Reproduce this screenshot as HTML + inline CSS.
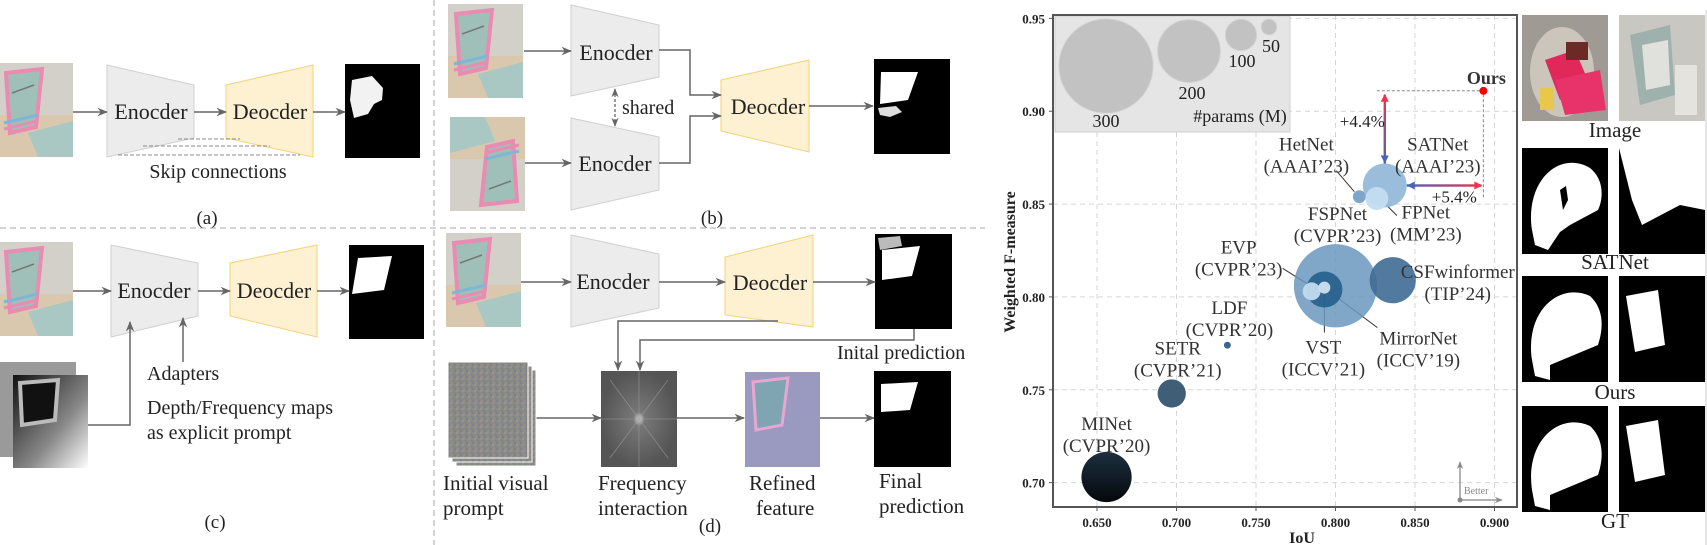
<!DOCTYPE html>
<html><head><meta charset="utf-8">
<style>
html,body{margin:0;padding:0;background:#fff;}
svg{display:block;font-family:"Liberation Serif",serif;}
</style></head>
<body>
<svg id="fig" width="1707" height="545" viewBox="0 0 1707 545" xmlns="http://www.w3.org/2000/svg">
<defs>
  <marker id="ah" viewBox="0 0 10 10" refX="9" refY="5" markerWidth="7" markerHeight="7" orient="auto-start-reverse"><path d="M0,1 L10,5 L0,9 L3,5 z" fill="#666"/></marker>
  <marker id="ahg" viewBox="0 0 10 10" refX="9" refY="5" markerWidth="6" markerHeight="6" orient="auto"><path d="M0,1 L10,5 L0,9 L3,5 z" fill="#888"/></marker>
  <linearGradient id="gv" x1="0" y1="0" x2="0" y2="1"><stop offset="0" stop-color="#f0324a"/><stop offset="1" stop-color="#4a62b8"/></linearGradient>
  <linearGradient id="gh" x1="0" y1="0" x2="1" y2="0"><stop offset="0" stop-color="#4a62b8"/><stop offset="1" stop-color="#f0324a"/></linearGradient>
  <linearGradient id="depth" x1="0" y1="0" x2="1" y2="1"><stop offset="0" stop-color="#111"/><stop offset="0.6" stop-color="#888"/><stop offset="1" stop-color="#fff"/></linearGradient>
  <linearGradient id="minetg" x1="0" y1="0" x2="0" y2="1"><stop offset="0" stop-color="#1d2f40"/><stop offset="1" stop-color="#05080b"/></linearGradient>
  <radialGradient id="fft"><stop offset="0" stop-color="#ddd"/><stop offset="0.15" stop-color="#777"/><stop offset="1" stop-color="#555"/></radialGradient>
  <pattern id="noise" width="6" height="6" patternUnits="userSpaceOnUse"><rect width="6" height="6" fill="#8a8a86"/><rect x="0" y="0" width="2" height="2" fill="#9a8f9a"/><rect x="3" y="2" width="2" height="2" fill="#7c8a7e"/><rect x="1" y="4" width="2" height="2" fill="#968e80"/><rect x="4" y="4" width="2" height="2" fill="#7e7f90"/></pattern>
  <g id="photo">
    <rect width="75" height="94" fill="#d3d0ca"/>
    <rect y="52" width="75" height="42" fill="#d9c8ae"/>
    <polygon points="30,70 75,58 75,94 40,94" fill="#a9c7c3"/>
    <polygon points="8,10 44,6 38,64 12,70" fill="#9fc0b8"/>
    <polygon points="8,10 44,6 38,64 12,70" fill="none" stroke="#ea8bb1" stroke-width="4"/>
    <path d="M6,60 L40,52" stroke="#7fb6d6" stroke-width="3"/>
    <path d="M6,66 L40,58" stroke="#ea8bb1" stroke-width="3"/>
    <path d="M14,30 L36,22" stroke="#777" stroke-width="1.5"/>
  </g>
</defs>

<line x1="0" y1="228" x2="985" y2="228" stroke="#aaa" stroke-dasharray="6,4"/>
<line x1="434" y1="0" x2="434" y2="545" stroke="#aaa" stroke-dasharray="6,4"/>

<g font-size="22" fill="#222">
  <use href="#photo" x="-2" y="63"/>
  <polygon points="107,65 194,85 194,138 107,157" fill="#ececec" stroke="#cfcfcf"/>
  <text x="151" y="119" text-anchor="middle">Enocder</text>
  <polygon points="226,85 313,65 313,157 226,138" fill="#fdf1d2" stroke="#f2d27a"/>
  <text x="270" y="119" text-anchor="middle">Deocder</text>
  <rect x="345" y="64" width="75" height="94" fill="#000"/>
  <path d="M352,80 L372,76 L383,88 L382,100 L374,104 L368,114 L354,118 L350,100 z" fill="#fff" opacity="0.95"/>
  <g stroke="#666" stroke-width="1.5" marker-end="url(#ah)"><line x1="73" y1="112" x2="107" y2="112"/><line x1="194" y1="112" x2="226" y2="112"/><line x1="313" y1="112" x2="345" y2="112"/></g>
  <g stroke="#888" stroke-dasharray="4,2"><line x1="178" y1="139" x2="240" y2="139"/><line x1="143" y1="146" x2="270" y2="146"/><line x1="118" y1="155" x2="300" y2="155"/></g>
  <text x="218" y="178" text-anchor="middle" font-size="20">Skip connections</text>
  <text x="207" y="224" text-anchor="middle" font-size="19">(a)</text>
</g>

<g font-size="22" fill="#222">
  <use href="#photo" x="-2" y="242"/>
  <polygon points="111,245 198,263 198,316 111,337" fill="#ececec" stroke="#cfcfcf"/>
  <text x="154" y="298" text-anchor="middle">Enocder</text>
  <polygon points="230,263 317,245 317,337 230,316" fill="#fdf1d2" stroke="#f2d27a"/>
  <text x="274" y="298" text-anchor="middle">Deocder</text>
  <rect x="349" y="245" width="75" height="94" fill="#000"/>
  <polygon points="358,258 392,256 384,290 352,294" fill="#fff"/>
  <g stroke="#666" stroke-width="1.5" marker-end="url(#ah)"><line x1="73" y1="291" x2="111" y2="291"/><line x1="198" y1="291" x2="230" y2="291"/><line x1="317" y1="291" x2="349" y2="291"/></g>
  <rect x="0" y="362" width="76" height="95" fill="#9a9a9a"/>
  <rect x="13" y="375" width="75" height="93" fill="url(#depth)"/>
  <polygon points="20,383 58,380 55,420 22,425" fill="#111" stroke="#bbb" stroke-width="4"/>
  <polyline points="88,425 130,425 130,322" fill="none" stroke="#666" stroke-width="1.5" marker-end="url(#ah)"/>
  <line x1="183" y1="362" x2="183" y2="318" stroke="#666" stroke-width="1.5" marker-end="url(#ah)"/>
  <text x="147" y="380" font-size="20">Adapters</text>
  <text x="147" y="414" font-size="20">Depth/Frequency maps</text>
  <text x="147" y="439" font-size="20">as explicit prompt</text>
  <text x="215" y="528" text-anchor="middle" font-size="19">(c)</text>
</g>

<g font-size="22" fill="#222">
  <use href="#photo" x="448" y="4"/>
  <use href="#photo" transform="translate(525,211) rotate(180)"/>
  <polygon points="571,5 659,25 659,77 571,96" fill="#ececec" stroke="#cfcfcf"/>
  <text x="616" y="60" text-anchor="middle">Enocder</text>
  <polygon points="571,118 659,137 659,190 571,210" fill="#ececec" stroke="#cfcfcf"/>
  <text x="615" y="171" text-anchor="middle">Enocder</text>
  <polygon points="721,80 809,60 809,152 721,131" fill="#fdf1d2" stroke="#f2d27a"/>
  <text x="768" y="114" text-anchor="middle">Deocder</text>
  <rect x="874" y="59" width="76" height="95" fill="#000"/>
  <polygon points="881,72 918,72 908,100 880,104" fill="#fff"/>
  <path d="M878,108 L896,106 L902,112 L890,117 L880,115 z" fill="#ddd"/>
  <g stroke="#666" stroke-width="1.5" fill="none" marker-end="url(#ah)">
    <line x1="524" y1="51" x2="571" y2="51"/><line x1="525" y1="163" x2="571" y2="163"/>
    <polyline points="659,50 690,50 690,95 721,95"/><polyline points="659,163 690,163 690,116 721,116"/>
    <line x1="809" y1="106" x2="873" y2="106"/>
  </g>
  <line x1="615" y1="89" x2="615" y2="126" stroke="#666" stroke-width="1.3" stroke-dasharray="3,2" marker-start="url(#ah)" marker-end="url(#ah)"/>
  <text x="622" y="114" font-size="20">shared</text>
  <text x="712" y="224" text-anchor="middle" font-size="19">(b)</text>
</g>

<g font-size="22" fill="#222">
  <use href="#photo" x="446" y="233"/>
  <polygon points="571,235 659,254 659,308 571,327" fill="#ececec" stroke="#cfcfcf"/>
  <text x="613" y="289" text-anchor="middle">Enocder</text>
  <polygon points="725,257 813,235 813,327 725,315" fill="#fdf1d2" stroke="#f2d27a"/>
  <text x="770" y="290" text-anchor="middle">Deocder</text>
  <rect x="875" y="234" width="77" height="95" fill="#000"/>
  <polygon points="882,250 920,246 912,276 882,280" fill="#fff"/>
  <path d="M878,238 L900,236 L902,246 L880,250 z" fill="#bbb"/>
  <g stroke="#666" stroke-width="1.5" fill="none" marker-end="url(#ah)">
    <line x1="521" y1="282" x2="571" y2="282"/><line x1="659" y1="282" x2="725" y2="282"/><line x1="813" y1="282" x2="875" y2="282"/>
    <polyline points="778,321 618,321 618,370"/><polyline points="914,329 914,340 640,340 640,370"/>
    <line x1="536" y1="418" x2="601" y2="418"/><line x1="677" y1="418" x2="744" y2="418"/><line x1="820" y1="418" x2="874" y2="418"/>
  </g>
  <text x="837" y="359" font-size="20">Inital prediction</text>
  <rect x="456" y="370" width="80" height="96" fill="url(#noise)" stroke="#fff"/>
  <rect x="452" y="366" width="80" height="96" fill="url(#noise)" stroke="#fff"/>
  <rect x="448" y="362" width="80" height="96" fill="url(#noise)" stroke="#fff"/>
  <rect x="601" y="371" width="76" height="96" fill="url(#fft)"/>
  <g stroke="#999" stroke-width="0.8" opacity="0.7"><line x1="639" y1="371" x2="639" y2="467"/><line x1="601" y1="419" x2="677" y2="419"/><line x1="610" y1="380" x2="668" y2="458"/><line x1="668" y1="380" x2="610" y2="458"/></g>
  <rect x="745" y="372" width="75" height="95" fill="#9a9ac0"/>
  <polygon points="753,382 788,378 782,425 756,430" fill="#7fa4b2" stroke="#e6a7d2" stroke-width="3"/>
  <rect x="874" y="371" width="77" height="96" fill="#000"/>
  <polygon points="881,384 918,382 910,410 881,412" fill="#fff"/>
  <text x="443" y="490" font-size="21">Initial visual</text>
  <text x="443" y="515" font-size="21">prompt</text>
  <text x="598" y="490" font-size="21">Frequency</text>
  <text x="598" y="515" font-size="21">interaction</text>
  <text x="749" y="490" font-size="21">Refined</text>
  <text x="756" y="515" font-size="21">feature</text>
  <text x="879" y="488" font-size="21">Final</text>
  <text x="879" y="513" font-size="21">prediction</text>
  <text x="710" y="532" text-anchor="middle" font-size="19">(d)</text>
</g>

<g id="chart"></g>

<g font-size="21" fill="#222">
  <rect x="1522" y="15" width="86" height="106" fill="#9f9b94"/>
  <ellipse cx="1562" cy="72" rx="32" ry="45" fill="#cbc5bc"/>
  <polygon points="1545,60 1575,50 1590,85 1560,100" fill="#e0285a"/>
  <polygon points="1555,80 1600,70 1606,110 1565,115" fill="#e8336a"/>
  <rect x="1540" y="88" width="14" height="22" fill="#e7c84a"/>
  <rect x="1566" y="42" width="22" height="18" fill="#6b2a26"/>
  <rect x="1619" y="15" width="86" height="106" fill="#c8c7c2"/>
  <polygon points="1630,35 1670,25 1675,95 1640,105" fill="#9fb1ac"/>
  <polygon points="1642,45 1668,40 1670,85 1646,90" fill="#e0e0dc"/>
  <rect x="1675" y="65" width="22" height="50" fill="#e5e3de"/>
  <text x="1615" y="137" text-anchor="middle">Image</text>
  <rect x="1522" y="148" width="86" height="106" fill="#000"/>
  <path d="M1532,230 C1525,180 1560,150 1590,168 C1605,180 1603,200 1598,210 L1570,225 L1560,232 L1548,250 L1535,245 z" fill="#fff"/>
  <path d="M1560,190 L1566,186 L1568,200 L1563,210 z" fill="#000"/>
  <rect x="1619" y="148" width="86" height="106" fill="#000"/>
  <polygon points="1619,148 1705,148 1705,210 1680,205 1642,225 1632,200 1622,160" fill="#fff"/>
  <text x="1615" y="269" text-anchor="middle">SATNet</text>
  <rect x="1522" y="276" width="86" height="106" fill="#000"/>
  <path d="M1532,360 C1525,310 1560,282 1590,296 C1605,310 1603,330 1598,345 L1550,365 L1550,380 L1535,376 z" fill="#fff"/>
  <rect x="1619" y="276" width="86" height="106" fill="#000"/>
  <polygon points="1626,296 1658,290 1665,345 1635,352" fill="#fff"/>
  <text x="1615" y="399" text-anchor="middle">Ours</text>
  <rect x="1522" y="406" width="86" height="106" fill="#000"/>
  <path d="M1532,490 C1525,440 1560,412 1590,426 C1605,440 1603,460 1598,475 L1550,495 L1550,510 L1535,506 z" fill="#fff"/>
  <rect x="1619" y="406" width="86" height="106" fill="#000"/>
  <polygon points="1626,426 1658,420 1665,475 1635,482" fill="#fff"/>
  <text x="1615" y="528" text-anchor="middle">GT</text>
  <line x1="1706" y1="10" x2="1706" y2="545" stroke="#ccc"/>
</g>
</svg>

<script>
const methods = ["MINet","SETR","LDF","FSPNet","VST","EVP","MirrorNet","CSFwinformer","HetNet","SATNet","FPNet","Ours"];
const venues = ["(CVPR’20)","(CVPR’21)","(CVPR’20)","(CVPR’23)","(ICCV’21)","(CVPR’23)","(ICCV’19)","(TIP’24)","(AAAI’23)","(AAAI’23)","(MM’23)",""];
const iouValues = [0.656,0.697,0.732,0.800,0.793,0.785,0.793,0.836,0.815,0.831,0.826,0.893];
const fmValues = [0.703,0.748,0.774,0.806,0.804,0.803,0.805,0.809,0.854,0.860,0.853,0.911];
const paramValues = [160,90,22,265,115,57,38,147,41,140,73,25];
const xTicks = [0.650,0.700,0.750,0.800,0.850,0.900];
const yTicks = [0.70,0.75,0.80,0.85,0.90,0.95];
const legendParams = [300,200,100,50];

const colors = ["url(#minetg)","#365670","#3b6589","#6a97be","#1f5a87","#c2daef","#cde0f0","#3f6c93","#6f9cc2","#8fb6d7","#c4dcf0","red"];
const opac = [1,0.95,1,0.85,0.85,0.95,0.95,0.9,0.9,0.9,0.95,1];
const labelOff = [[0,-47],[6,-39],[2,-31],[2,-66],[-1,64],[-73,-38],[94,57],[65,-2],[-53,-46],[53,-35],[49,20],[3,-7]];

const X0 = 1053, X1 = 1517, Y0 = 15, Y1 = 507;
function xs(v){ return 1097 + (v - 0.65) * 1590; }
function ys(v){ return 250.5 - (v - 0.825) * 1857; }
function rs(p){ return p * 0.157; }

const NS = "http://www.w3.org/2000/svg";
const chart = document.getElementById("chart");
function mk(tag, attrs, parent){ const e = document.createElementNS(NS, tag); for (const k in attrs) e.setAttribute(k, attrs[k]); (parent||chart).appendChild(e); return e; }

xTicks.forEach(t=>{
  const g = mk("line",{x1:xs(t),y1:Y0,x2:xs(t),y2:Y1,stroke:"#d6d6d6","stroke-dasharray":"5,4"});
  
  
  const tk = mk("line",{x1:xs(t),y1:Y1,x2:xs(t),y2:Y1+4,stroke:"#555"});
  
  
  const tx = mk("text",{x:xs(t),y:Y1+20,"text-anchor":"middle","font-size":"13","font-weight":"bold",fill:"#222"});
  tx.textContent = t.toFixed(3);
  
  
});
yTicks.forEach(t=>{
  const g = mk("line",{x1:X0,y1:ys(t),x2:X1,y2:ys(t),stroke:"#d6d6d6","stroke-dasharray":"5,4"});
  
  
  const tk = mk("line",{x1:X0-4,y1:ys(t),x2:X0,y2:ys(t),stroke:"#555"});
  
  
  const tx = mk("text",{x:X0-8,y:ys(t)+5,"text-anchor":"end","font-size":"13","font-weight":"bold",fill:"#222"});
  tx.textContent = t.toFixed(2);
  
  
});

const lg = mk("rect",{x:X0+2,y:Y0+1,width:235,height:116,fill:"#e5e5e5",stroke:"#cfcfcf"});


const legCx = [1106,1189,1241,1269], legCy = [66,51,35,27], legLx = [1106,1192,1242,1271], legLy = [127,99,67,52];
legendParams.forEach((p,i)=>{
  const c = mk("circle",{cx:legCx[i],cy:legCy[i],r:rs(p),fill:"#c2c2c2",stroke:"#d4d4d4"});
  
  
  const t = mk("text",{x:legLx[i],y:legLy[i],"text-anchor":"middle","font-size":"18",fill:"#222"});
  t.textContent = p;
  
  
});
const lt = mk("text",{x:1240,y:122,"text-anchor":"middle","font-size":"18",fill:"#222"});
lt.textContent = "#params (M)";



const S = methods.indexOf("SATNet"), O = methods.indexOf("Ours");
const leaders = [[methods.indexOf("HetNet"),-23,-26,-5,-5],[methods.indexOf("FPNet"),20,17,8,5],[methods.indexOf("EVP"),-29,-23,-2,-6],[methods.indexOf("VST"),0,43,0,5],[methods.indexOf("MirrorNet"),53,40,13,10]];
leaders.forEach(L=>{
  const i=L[0], x=xs(iouValues[i]), y=ys(fmValues[i]);
  const l = mk("line",{x1:x+L[3],y1:y+L[4],x2:x+L[1],y2:y+L[2],stroke:"#333","stroke-width":"1"});
  
  
});

const order = [0,1,2,3,7,4,5,6,8,9,10];
order.forEach(i=>{
  const c = mk("circle",{cx:xs(iouValues[i]),cy:ys(fmValues[i]),r:rs(paramValues[i]),fill:colors[i],"fill-opacity":opac[i]});
  
  
});

const ox = xs(iouValues[O]), oy = ys(fmValues[O]), sx = xs(iouValues[S]), sy = ys(fmValues[S]), sr = rs(paramValues[S]);
const d1 = mk("polyline",{points:`${sx-8},${oy} ${ox},${oy} ${ox},${sy+13}`,fill:"none",stroke:"#888","stroke-dasharray":"3,2"});


const va = mk("rect",{x:sx-1.2,y:oy+4,width:2.4,height:(sy-sr)-(oy+4),fill:"url(#gv)"});


mk("path",{d:`M${sx-4},${oy+11} L${sx},${oy+3} L${sx+4},${oy+11} z`,fill:"#f0324a"});
mk("path",{d:`M${sx-4},${sy-sr-8} L${sx},${sy-sr} L${sx+4},${sy-sr-8} z`,fill:"#4a62b8"});
const ha = mk("rect",{x:sx+sr,y:sy-1.2,width:ox-(sx+sr)-2,height:2.4,fill:"url(#gh)"});


mk("path",{d:`M${sx+sr+8},${sy-4} L${sx+sr},${sy} L${sx+sr+8},${sy+4} z`,fill:"#4a62b8"});
mk("path",{d:`M${ox-9},${sy-4} L${ox-1},${sy} L${ox-9},${sy+4} z`,fill:"#f0324a"});
const g1 = mk("text",{x:sx-45,y:oy+36,"font-size":"17",fill:"#222"}); g1.textContent = "+4.4%";
 
const g2 = mk("text",{x:sx+47,y:sy+17,"font-size":"17",fill:"#222"}); g2.textContent = "+5.4%";
 
const ours = mk("circle",{cx:ox,cy:oy,r:rs(paramValues[O]),fill:"red"});



methods.forEach((m,i)=>{
  const x = xs(iouValues[i]) + labelOff[i][0], y = ys(fmValues[i]) + labelOff[i][1];
  const t = mk("text",{x:x,y:y,"text-anchor":"middle","font-size":m==="Ours"?"18":"19",fill:"#333","font-weight":m==="Ours"?"bold":"normal"});
  t.textContent = m;
  
  
  if (venues[i]) {
    const v = mk("text",{x:x,y:y+22,"text-anchor":"middle","font-size":"19",fill:"#333"});
    v.textContent = venues[i];
    
    
  }
});

const bx = 1460, by = 500;
mk("line",{x1:bx,y1:by,x2:bx,y2:by-38,stroke:"#888","stroke-width":"1.3","marker-end":"url(#ahg)"});
mk("line",{x1:bx,y1:by,x2:bx+42,y2:by,stroke:"#888","stroke-width":"1.3","marker-end":"url(#ahg)"});
mk("circle",{cx:bx,cy:by,r:2.5,fill:"#888"});
const bt = mk("text",{x:bx+4,y:by-6,"font-size":"10",fill:"#888"}); bt.textContent = "Better";



const fr = mk("rect",{x:X0,y:Y0,width:X1-X0,height:Y1-Y0,fill:"none",stroke:"#555","stroke-width":"2"});


const xt = mk("text",{x:1302,y:543,"text-anchor":"middle","font-size":"16","font-weight":"bold",fill:"#222"}); xt.textContent = "IoU";
 
const yt = mk("text",{x:0,y:0,"text-anchor":"middle","font-size":"16","font-weight":"bold",fill:"#222",transform:"translate(1015,262) rotate(-90)"}); yt.textContent = "Weighted F-measure";
 
</script>
</body></html>
